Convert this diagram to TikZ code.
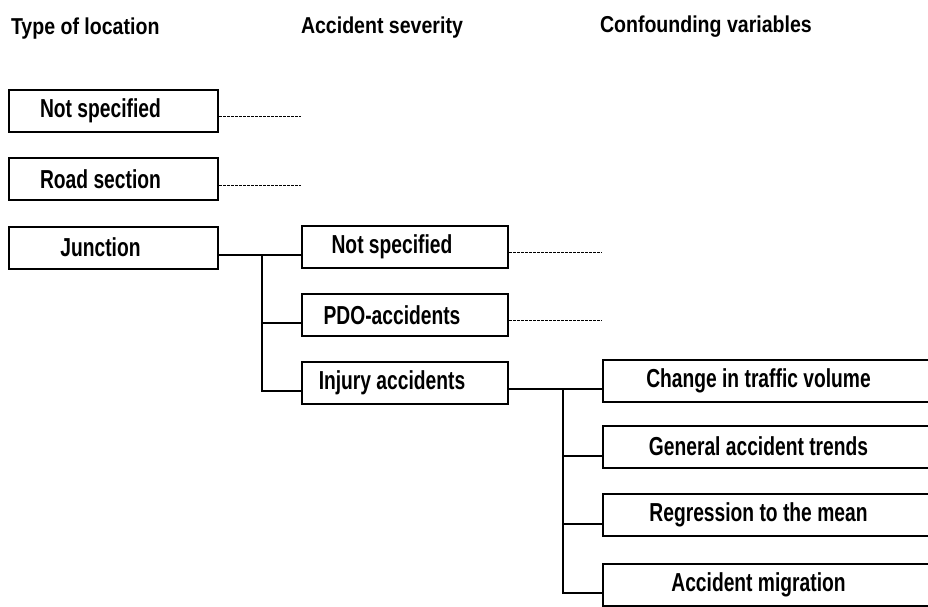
\documentclass[tikz,border=0pt]{standalone}
\usepackage{fontspec}
\newfontfamily\condfont[FakeStretch=0.74]{Liberation Sans}
\newfontfamily\headfont[FakeStretch=0.85]{Liberation Sans}
\usetikzlibrary{
    positioning,
    calc
}

\begin{document}
\begin{tikzpicture}[x=1pt, y=-1pt, line width=2pt,
    head-node/.style={anchor=base west, inner sep=0pt, font=\headfont\bfseries\fontsize{23}{25}\selectfont},
    text-node/.style={rectangle, draw=black, minimum height=42pt, inner sep=0pt,
        font=\condfont\bfseries\fontsize{26}{28}\selectfont,
        execute at begin node={\hspace*{-13pt}}, execute at end node={\hspace*{13pt}}},
    stub/.style={line width=0.8pt, dash pattern=on 3pt off 1pt}]
    \useasboundingbox (0,0) rectangle (928,606);
    \clip (0,0) rectangle (928,606);
    % column headings
    \node [head-node] (hloc) at (10,34) {Type of location};
    \node [head-node] (hsev) at (300,33) {Accident severity};
    \node [head-node] (hconf) at (599,32) {Confounding variables};
    % type of location
    \node [text-node, minimum width=209pt] (locNS) at (113.5,110.5) {Not specified};
    \node [text-node, minimum width=209pt] (locRoad) at (113.5,179) {Road section};
    \node [text-node, minimum width=209pt] (locJunc) at (113.5,247.5) {Junction};
    % accident severity
    \node [text-node, minimum width=206pt] (sevNS) at (405,246.5) {Not specified};
    \node [text-node, minimum width=206pt] (sevPDO) at (405,315) {PDO-accidents};
    \node [text-node, minimum width=206pt] (sevInj) at (405,382.5) {Injury accidents};
    % confounding variables
    \node [text-node, minimum width=337pt] (cvTraffic) at (771.5,380.5) {Change in traffic volume};
    \node [text-node, minimum width=337pt] (cvTrend) at (771.5,446.5) {General accident trends};
    \node [text-node, minimum width=337pt] (cvMean) at (771.5,515) {Regression to the mean};
    \node [text-node, minimum width=337pt] (cvMigr) at (771.5,584.5) {Accident migration};
    % tree connectors
    \draw ([yshift=-7pt]locJunc.east) -- ([yshift=-7pt]locJunc.east -| sevNS.west);
    \coordinate (jfork) at ([xshift=43pt, yshift=-7pt]locJunc.east);
    \draw (jfork) |- ([yshift=-8pt]sevPDO.west);
    \draw (jfork) |- ([yshift=-8pt]sevInj.west);
    \draw ([yshift=-6pt]sevInj.east) -- ([yshift=-8pt]cvTraffic.west);
    \coordinate (ifork) at ([xshift=54pt, yshift=-6pt]sevInj.east);
    \draw (ifork) |- ([yshift=-9pt]cvTrend.west);
    \draw (ifork) |- ([yshift=-9pt]cvMean.west);
    \draw (ifork) |- ([yshift=-8pt]cvMigr.west);
    % dashed stubs
    \coordinate (locNSend) at ([yshift=-6pt]locNS.east -| sevNS.west);
    \coordinate (locRoadend) at ([yshift=-6pt]locRoad.east -| sevNS.west);
    \coordinate (sevNSend) at ([yshift=-5.5pt]sevNS.east -| cvTraffic.west);
    \coordinate (sevPDOend) at ([yshift=-5pt]sevPDO.east -| cvTraffic.west);
    \draw [stub] ([yshift=-6pt]locNS.east) -- (locNSend);
    \draw [stub] ([yshift=-6pt]locRoad.east) -- (locRoadend);
    \draw [stub] ([yshift=-5.5pt]sevNS.east) -- (sevNSend);
    \draw [stub] ([yshift=-5pt]sevPDO.east) -- (sevPDOend);
\end{tikzpicture}
\end{document}
